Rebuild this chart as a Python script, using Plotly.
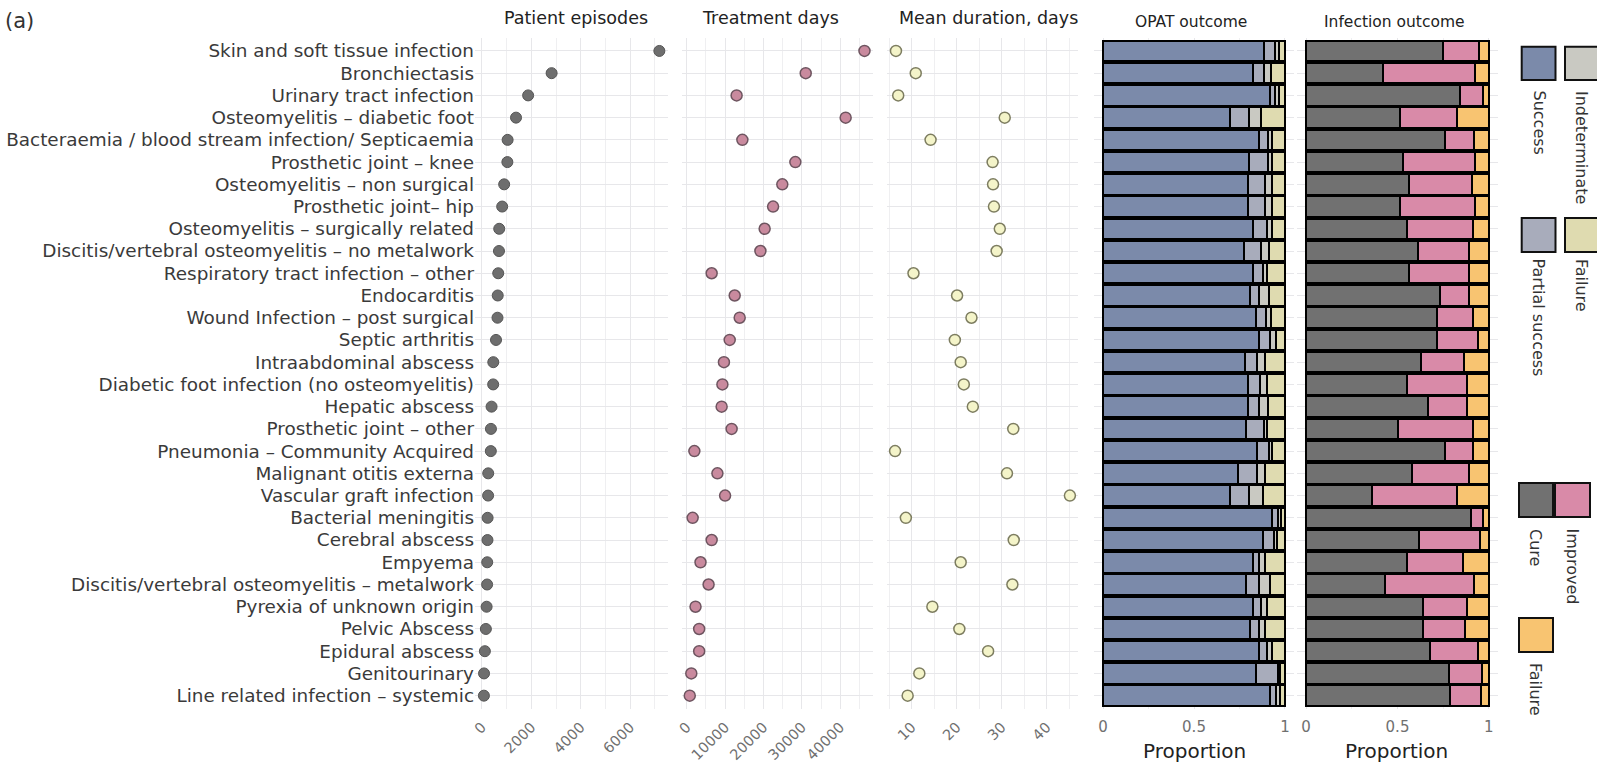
import plotly.graph_objects as go

# ---------------- data ----------------
categories = [
    "Skin and soft tissue infection",
    "Bronchiectasis",
    "Urinary tract infection",
    "Osteomyelitis – diabetic foot",
    "Bacteraemia / blood stream infection/ Septicaemia",
    "Prosthetic joint – knee",
    "Osteomyelitis – non surgical",
    "Prosthetic joint– hip",
    "Osteomyelitis – surgically related",
    "Discitis/vertebral osteomyelitis – no metalwork",
    "Respiratory tract infection – other",
    "Endocarditis",
    "Wound Infection – post surgical",
    "Septic arthritis",
    "Intraabdominal abscess",
    "Diabetic foot infection (no osteomyelitis)",
    "Hepatic abscess",
    "Prosthetic joint – other",
    "Pneumonia – Community Acquired",
    "Malignant otitis externa",
    "Vascular graft infection",
    "Bacterial meningitis",
    "Cerebral abscess",
    "Empyema",
    "Discitis/vertebral osteomyelitis – metalwork",
    "Pyrexia of unknown origin",
    "Pelvic Abscess",
    "Epidural abscess",
    "Genitourinary",
    "Line related infection – systemic",
]

patient_episodes = [7180, 2820, 1870, 1380, 1040, 1030, 900, 820, 700, 690,
                    660, 640, 630, 570, 460, 455, 390, 365, 360, 255,
                    250, 230, 225, 215, 210, 190, 160, 120, 85, 80]

treatment_days = [46300, 31000, 13000, 41400, 14500, 28300, 24900, 22500, 20300, 19200,
                  6500, 12500, 13800, 11200, 9700, 9300, 9100, 11700, 2000, 8000,
                  10000, 1550, 6500, 3600, 5700, 2300, 3250, 3250, 1200, 800]

mean_duration = [6.5, 10.9, 7.0, 30.7, 14.2, 28.0, 28.1, 28.3, 29.6, 28.9,
                 10.4, 20.1, 23.3, 19.6, 20.9, 21.6, 23.6, 32.6, 6.3, 31.2,
                 45.2, 8.7, 32.7, 20.9, 32.4, 14.6, 20.6, 27.0, 11.7, 9.1]

opat_success = [0.885, 0.824, 0.920, 0.700, 0.857, 0.800, 0.796, 0.796, 0.824, 0.774,
                0.824, 0.810, 0.843, 0.857, 0.783, 0.796, 0.796, 0.787, 0.846, 0.744,
                0.700, 0.930, 0.880, 0.824, 0.787, 0.824, 0.810, 0.860, 0.843, 0.920]
opat_partial = [0.063, 0.061, 0.028, 0.105, 0.050, 0.105, 0.094, 0.094, 0.076, 0.092,
                0.056, 0.045, 0.055, 0.063, 0.065, 0.069, 0.059, 0.098, 0.064, 0.104,
                0.100, 0.030, 0.060, 0.031, 0.073, 0.046, 0.045, 0.040, 0.117, 0.030]
opat_indeterminate = [0.019, 0.040, 0.022, 0.065, 0.023, 0.025, 0.040, 0.040, 0.030, 0.044,
                      0.020, 0.055, 0.027, 0.030, 0.042, 0.035, 0.050, 0.015, 0.020, 0.042,
                      0.080, 0.020, 0.015, 0.035, 0.060, 0.030, 0.035, 0.030, 0.015, 0.025]
opat_failure = [0.033, 0.075, 0.030, 0.130, 0.070, 0.070, 0.070, 0.070, 0.070, 0.090,
                0.100, 0.090, 0.075, 0.050, 0.110, 0.100, 0.095, 0.100, 0.070, 0.110,
                0.120, 0.020, 0.045, 0.110, 0.080, 0.100, 0.110, 0.070, 0.025, 0.025]

inf_cure = [0.747, 0.419, 0.843, 0.511, 0.760, 0.530, 0.561, 0.515, 0.552, 0.613,
            0.563, 0.733, 0.718, 0.718, 0.631, 0.553, 0.668, 0.502, 0.760, 0.581,
            0.360, 0.900, 0.620, 0.554, 0.430, 0.642, 0.642, 0.680, 0.780, 0.790]
inf_improved = [0.198, 0.507, 0.126, 0.314, 0.157, 0.396, 0.347, 0.411, 0.361, 0.276,
                0.326, 0.156, 0.195, 0.222, 0.234, 0.327, 0.212, 0.411, 0.153, 0.308,
                0.468, 0.070, 0.330, 0.306, 0.487, 0.238, 0.228, 0.260, 0.180, 0.165]
inf_failure = [0.055, 0.074, 0.031, 0.175, 0.083, 0.074, 0.092, 0.074, 0.087, 0.111,
               0.111, 0.111, 0.087, 0.060, 0.135, 0.120, 0.120, 0.087, 0.087, 0.111,
               0.172, 0.030, 0.050, 0.140, 0.083, 0.120, 0.130, 0.060, 0.040, 0.045]

panel_titles = ["Patient episodes", "Treatment days", "Mean duration, days",
                "OPAT outcome", "Infection outcome"]

pe_ticks = [0, 2000, 4000, 6000]
td_ticks = [0, 10000, 20000, 30000, 40000]
md_ticks = [10, 20, 30, 40]
prop_ticks = [0, 0.5, 1]
prop_labels = ["0", "0.5", "1"]

# ---------------- styling ----------------
W, H = 1597, 765
FONT = "DejaVu Sans"
GRID = "#e7e7ea"
MINOR = "#efeff1"
TICKC = "#707070"

C_SUCCESS = "#7b8aaa"
C_PARTIAL = "#a8acbb"
C_INDET = "#c9c9c2"
C_OFAIL = "#dfdbb0"
C_CURE = "#717171"
C_IMPR = "#d98aa8"
C_IFAIL = "#f8c471"


def fx(p):
    return p / W


def fy(p):
    return 1 - p / H


fig = go.Figure()

fig.add_trace(go.Scatter(
    x=patient_episodes, y=categories, mode="markers", xaxis="x", yaxis="y",
    marker=dict(size=11, color="#6e6e6e", line=dict(color="#555555", width=1)),
    showlegend=False, cliponaxis=False))
fig.add_trace(go.Scatter(
    x=treatment_days, y=categories, mode="markers", xaxis="x2", yaxis="y2",
    marker=dict(size=11, color="#c98a9e", line=dict(color="#6e5560", width=1.5)),
    showlegend=False, cliponaxis=False))
fig.add_trace(go.Scatter(
    x=mean_duration, y=categories, mode="markers", xaxis="x3", yaxis="y3",
    marker=dict(size=11, color="#f4f4c9", line=dict(color="#7d7d60", width=1.5)),
    showlegend=False, cliponaxis=False))

for vals, col in [(opat_success, C_SUCCESS), (opat_partial, C_PARTIAL),
                  (opat_indeterminate, C_INDET), (opat_failure, C_OFAIL)]:
    fig.add_trace(go.Bar(
        x=vals, y=categories, orientation="h", xaxis="x4", yaxis="y4", width=0.92,
        marker=dict(color=col, line=dict(color="#000000", width=2)), showlegend=False))

for vals, col in [(inf_cure, C_CURE), (inf_improved, C_IMPR), (inf_failure, C_IFAIL)]:
    fig.add_trace(go.Bar(
        x=vals, y=categories, orientation="h", xaxis="x5", yaxis="y5", width=0.92,
        marker=dict(color=col, line=dict(color="#000000", width=2)), showlegend=False))

ydom = [fy(709), fy(37.6)]


def yax(anchor, labels):
    return dict(type="category", categoryorder="array", categoryarray=categories,
                range=[29.6, -0.6], domain=ydom, anchor=anchor,
                showgrid=True, gridcolor=GRID, gridwidth=1.2, zeroline=False,
                showline=False, ticks="",
                showticklabels=labels, automargin=False,
                tickfont=dict(family=FONT, size=18.4, color="#3a3a3a"))


def xax(anchor, dom, rng, tv, tt, minor_vals, angle, fsize, tlen):
    return dict(domain=[fx(dom[0]), fx(dom[1])], range=rng, anchor=anchor,
                tickmode="array", tickvals=tv, ticktext=tt, tickangle=angle,
                showgrid=True, gridcolor=GRID, gridwidth=1.2, zeroline=False,
                showline=False, ticks="outside", ticklen=tlen,
                tickcolor="rgba(0,0,0,0)", automargin=False,
                tickfont=dict(family=FONT, size=fsize, color=TICKC),
                minor=dict(tickvals=minor_vals, showgrid=True, gridcolor=MINOR,
                           gridwidth=1, ticks=""))


fig.update_layout(
    width=W, height=H, margin=dict(l=0, r=0, t=0, b=0),
    paper_bgcolor="white", plot_bgcolor="white", barmode="stack", bargap=0.08,
    showlegend=False,
    xaxis=xax("y", (475, 668), [-280, 7530], pe_ticks, [str(v) for v in pe_ticks],
              [1000, 3000, 5000, 7000], -45, 14.5, 3),
    xaxis2=xax("y2", (681.7, 873.3), [-1300, 48600], td_ticks, [str(v) for v in td_ticks],
               [5000, 15000, 25000, 35000, 45000], -45, 14.5, 3),
    xaxis3=xax("y3", (886.7, 1078), [4.44, 47.0], md_ticks, [str(v) for v in md_ticks],
               [5, 15, 25, 35, 45], -45, 14.5, 3),
    xaxis4=xax("y4", (1094, 1294), [-0.05, 1.05], prop_ticks, prop_labels,
               [0.25, 0.75], 0, 15, 4),
    xaxis5=xax("y5", (1297, 1498), [-0.05, 1.05], prop_ticks, prop_labels,
               [0.25, 0.75], 0, 15, 4),
    yaxis=yax("x", True),
    yaxis2=yax("x2", False),
    yaxis3=yax("x3", False),
    yaxis4=yax("x4", False),
    yaxis5=yax("x5", False),
)

ann = []
# panel titles
for t, cx, cy, fs in zip(panel_titles, [576, 770, 988, 1191, 1394],
                         [18, 18, 18, 22, 22], [17.5, 17.5, 17.5, 15.5, 15.5]):
    ann.append(dict(text=t, x=fx(cx), y=fy(cy), xref="paper", yref="paper",
                    xanchor="center", yanchor="middle", showarrow=False,
                    font=dict(family=FONT, size=fs, color="#222222")))
# "(a)"
ann.append(dict(text="(a)", x=fx(3), y=fy(21), xref="paper", yref="paper",
                xanchor="left", yanchor="middle", showarrow=False,
                font=dict(family=FONT, size=21, color="#333333")))
# Proportion axis titles
for cx in [1194.5, 1396.5]:
    ann.append(dict(text="Proportion", x=fx(cx), y=fy(751), xref="paper", yref="paper",
                    xanchor="center", yanchor="middle", showarrow=False,
                    font=dict(family=FONT, size=20, color="#222222")))

# legends (drawn keys)
shapes = []
legend_boxes = [
    (1521.7, 46.7, 1555.5, 80, C_SUCCESS),
    (1565, 46.7, 1600, 80, C_INDET),
    (1521.7, 218, 1555.5, 252, C_PARTIAL),
    (1565, 218, 1600, 252, C_OFAIL),
    (1519, 483, 1553, 517, C_CURE),
    (1555, 483, 1590, 517, C_IMPR),
    (1519, 618, 1553, 652, C_IFAIL),
]
for x0, y0, x1, y1, col in legend_boxes:
    shapes.append(dict(type="rect", xref="paper", yref="paper",
                       x0=fx(x0), x1=fx(x1), y0=fy(y1), y1=fy(y0),
                       fillcolor=col, line=dict(color="#111111", width=2)))

legend_texts = [
    ("Success", 1538.5, 90 + 32),
    ("Indeterminate", 1582, 90 + 57),
    ("Partial success", 1538.5, 258 + 59),
    ("Failure", 1582, 258 + 27),
    ("Cure", 1536, 528 + 19),
    ("Improved", 1572.5, 528 + 38),
    ("Failure", 1536, 662 + 27),
]
for t, cx, cy in legend_texts:
    ann.append(dict(text=t, x=fx(cx), y=fy(cy), xref="paper", yref="paper",
                    xanchor="center", yanchor="middle", showarrow=False, textangle=90,
                    font=dict(family=FONT, size=16, color="#333333")))

fig.update_layout(annotations=ann, shapes=shapes)

fig.write_html("out.html", config={"displayModeBar": False},
               post_script="document.body.style.margin='0px';")
